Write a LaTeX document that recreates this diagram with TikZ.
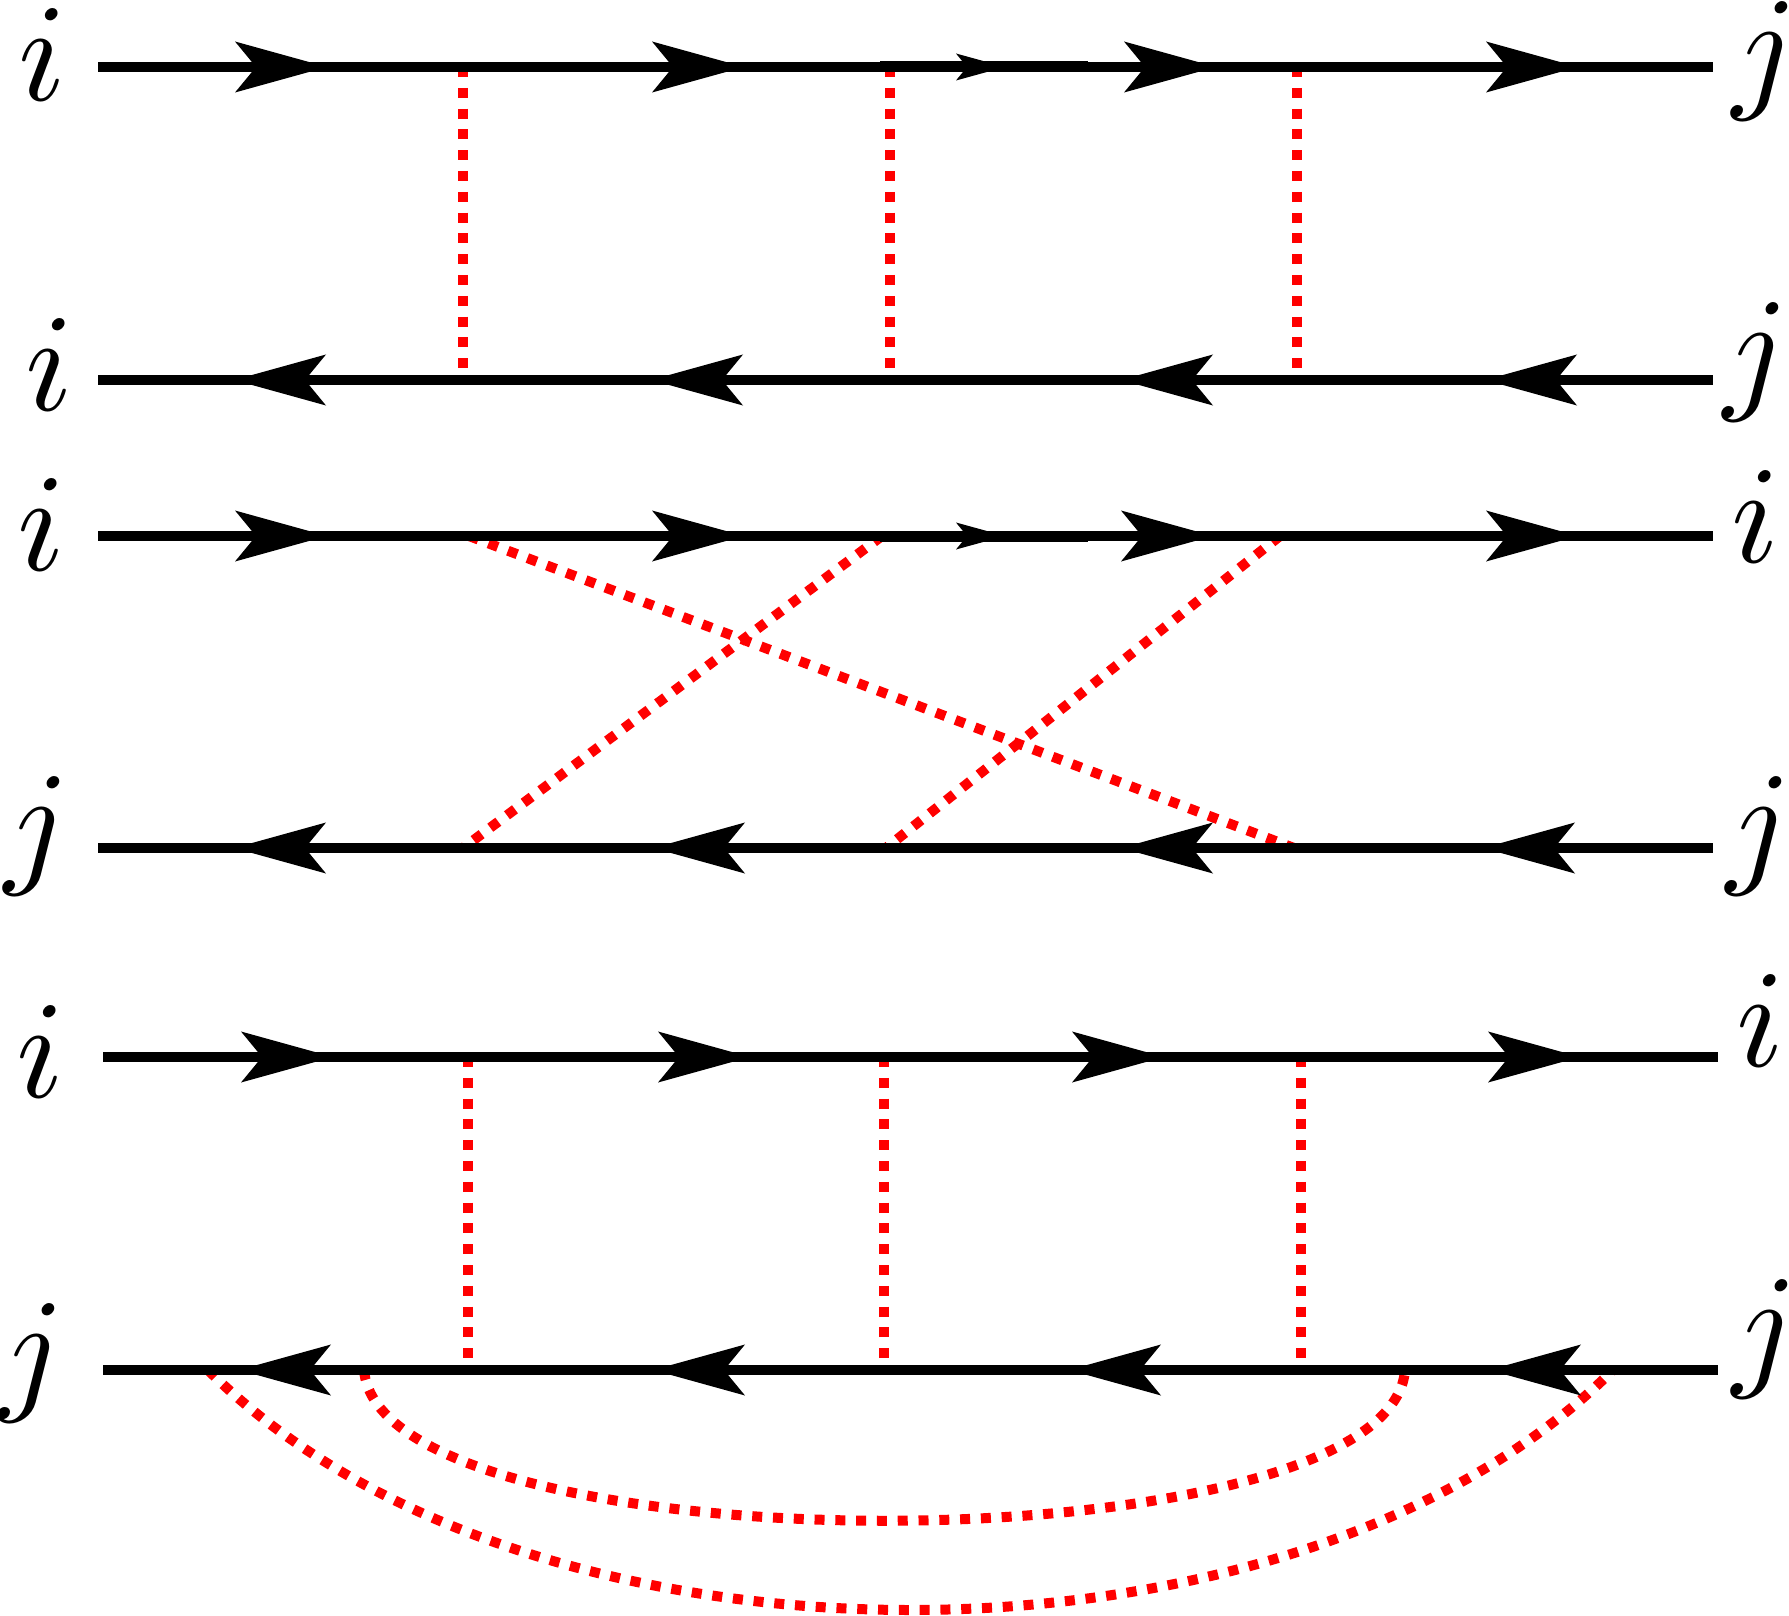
\documentclass[tikz,border=0pt]{standalone}
\begin{document}
\begin{tikzpicture}[x=0.25pt,y=-0.25pt,
  fline/.style={line width=2.375pt},
  thick seg/.style={line width=2.75pt},
  gline/.style={red,line width=2.5pt,dash pattern=on 2.5pt off 2.7pt},
  lab/.style={inner sep=0pt,scale=3.48},
  arrR/.pic={\fill (0,0) -- (-92,-25.5) -- (-71,0) -- (-92,25.5) -- cycle;},
  arrL/.pic={\fill (0,0) -- (92,-25.5) -- (71,0) -- (92,25.5) -- cycle;},
  sarrR/.pic={\fill (0,0) -- (-49,-13.5) -- (-38,0) -- (-49,13.5) -- cycle;}]
\useasboundingbox (0,0) rectangle (1789,1616);

% labels
\node[lab] (l1) at (42,55) {$i$};
\node[lab] (r1) at (1765,61) {$j$};
\node[lab] (l2) at (49,365) {$i$};
\node[lab] (r2) at (1756,362) {$j$};
\node[lab] (l3) at (41,525) {$i$};
\node[lab] (r3) at (1755,517) {$i$};
\node[lab] (l4) at (37,836) {$j$};
\node[lab] (r4) at (1759,836) {$j$};
\node[lab] (l5) at (40,1052) {$i$};
\node[lab] (r5) at (1760,1021) {$i$};
\node[lab] (l6) at (32,1363) {$j$};
\node[lab] (r6) at (1765,1339) {$j$};

% line ends
\coordinate (a1) at (98,67);   \coordinate (b1) at (1713,67);
\coordinate (a2) at (98,380);  \coordinate (b2) at (1713,380);
\coordinate (a3) at (98,536);  \coordinate (b3) at (1713,536);
\coordinate (a4) at (98,848);  \coordinate (b4) at (1713,848);
\coordinate (a5) at (103,1057); \coordinate (b5) at (1718,1057);
\coordinate (a6) at (103,1370); \coordinate (b6) at (1718,1370);

% vertices
\coordinate (u1) at (463,67);  \coordinate (u2) at (890,67);  \coordinate (u3) at (1297,67);
\coordinate (d1) at (463,380); \coordinate (d2) at (890,380); \coordinate (d3) at (1297,380);
\coordinate (p1) at (469,536); \coordinate (p2) at (882,536); \coordinate (p3) at (1280,536);
\coordinate (q1) at (463,848); \coordinate (q2) at (886,848); \coordinate (q3) at (1294,848);
\coordinate (s1) at (468,1057); \coordinate (s2) at (884,1057); \coordinate (s3) at (1301,1057);
\coordinate (t1) at (468,1370); \coordinate (t2) at (884,1370); \coordinate (t3) at (1301,1370);
\coordinate (o1) at (208,1370); \coordinate (o2) at (1613,1370);
\coordinate (n1) at (364,1370); \coordinate (n2) at (1405,1370);

% red dotted interactions
\draw[gline] (u1) -- (d1);
\draw[gline] (u2) -- (d2);
\draw[gline] (u3) -- (d3);
\draw[gline] (p1) -- (q3);
\draw[gline] (p2) -- (q1);
\draw[gline] (p3) -- (q2);
\draw[gline] (s1) -- (t1);
\draw[gline] (s2) -- (t2);
\draw[gline] (s3) -- (t3);
\draw[gline] (o1) .. controls (528,1690) and (1293,1690) .. (o2);
\draw[gline] (n1) .. controls (380,1571) and (1390,1571) .. (n2);

% fermion lines
\draw[fline] (a1) -- (b1);
\draw[fline] (a2) -- (b2);
\draw[fline] (a3) -- (b3);
\draw[fline] (a4) -- (b4);
\draw[fline] (a5) -- (b5);
\draw[fline] (a6) -- (b6);
\coordinate (m1a) at (880,67);  \coordinate (m1b) at (1088,67);
\coordinate (m3a) at (880,536); \coordinate (m3b) at (1088,536);
\draw[thick seg] (m1a) -- (m1b);
\draw[thick seg] (m3a) -- (m3b);

% arrowheads
\foreach \x in {327,744,1216,1578} \pic at (\x,67) {arrR};
\pic at (1005,67) {sarrR};
\foreach \x in {234,651,1121,1485} \pic at (\x,380) {arrL};
\foreach \x in {327,744,1213,1578} \pic at (\x,536) {arrR};
\pic at (1005,536) {sarrR};
\foreach \x in {234,653,1121,1483} \pic at (\x,848) {arrL};
\foreach \x in {333,750,1164,1580} \pic at (\x,1057) {arrR};
\foreach \x in {239,653,1069,1489} \pic at (\x,1370) {arrL};
\end{tikzpicture}
\end{document}
